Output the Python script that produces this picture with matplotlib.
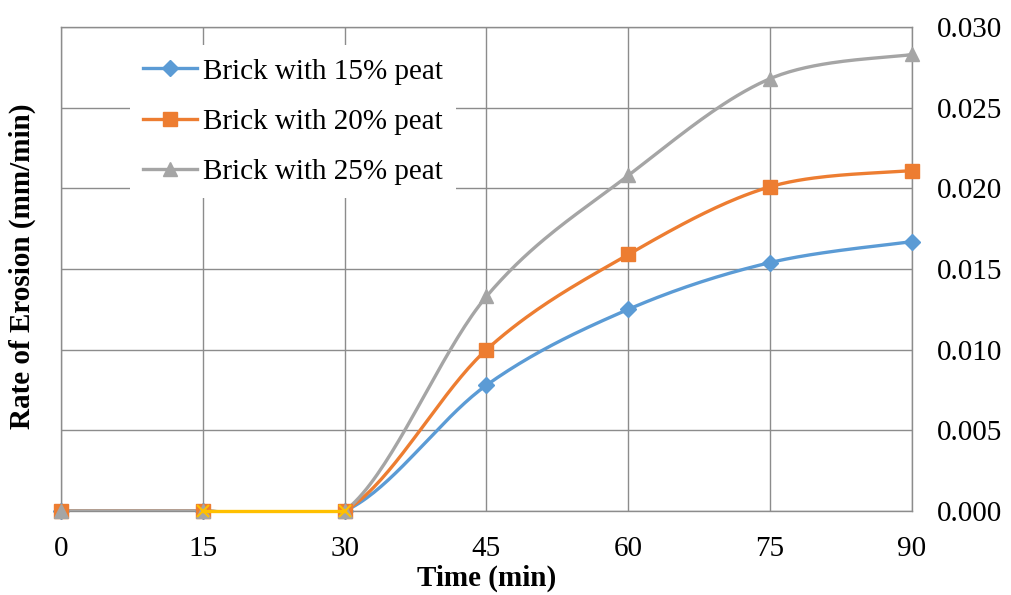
import numpy as np
import matplotlib
matplotlib.use("Agg")
import matplotlib.pyplot as plt

time_min = [0, 15, 30, 45, 60, 75, 90]
peat15 = [0.0, 0.0, 0.0, 0.0078, 0.0125, 0.0154, 0.0167]
peat20 = [0.0, 0.0, 0.0, 0.0100, 0.0159, 0.0201, 0.0211]
peat25 = [0.0, 0.0, 0.0, 0.0133, 0.0208, 0.0268, 0.0283]
extra_x = [15, 30]
extra_y = [0.0, 0.0]
labels = ["Brick with 15% peat", "Brick with 20% peat", "Brick with 25% peat"]
colors = ["#5B9BD5", "#ED7D31", "#A5A5A5"]
markers = ["D", "s", "^"]
msizes = [8, 10, 10]
xticks = [0, 15, 30, 45, 60, 75, 90]
yticks = [0.000, 0.005, 0.010, 0.015, 0.020, 0.025, 0.030]

plt.rcParams['font.family'] = ['Liberation Serif', 'DejaVu Serif']


def smooth(x, y, n=40):
    x = np.asarray(x, float)
    y = np.asarray(y, float)
    P = np.column_stack([x, y])
    out = []
    for i in range(len(P) - 1):
        p0 = P[i - 1] if i > 0 else P[i]
        p1 = P[i]
        p2 = P[i + 1]
        p3 = P[i + 2] if i + 2 < len(P) else P[i + 1]
        c1 = p1 + (p2 - p0) / 6.0
        c2 = p2 - (p3 - p1) / 6.0
        t = np.linspace(0, 1, n)[:, None]
        seg = ((1 - t) ** 3) * p1 + 3 * ((1 - t) ** 2) * t * c1 + 3 * (1 - t) * t ** 2 * c2 + t ** 3 * p2
        out.append(seg if i == 0 else seg[1:])
    s = np.vstack(out)
    return s[:, 0], s[:, 1]


fig = plt.figure(figsize=(10.12, 5.95), dpi=100)
ax = fig.add_axes([61 / 1012, 1 - 511 / 595, (912 - 61) / 1012, (511 - 27) / 595])

handles = []
for ys, c, m, ms, lab in zip([peat15, peat20, peat25], colors, markers, msizes, labels):
    sx, sy = smooth(time_min, ys)
    ax.plot(sx, sy, color=c, lw=2.4, solid_capstyle='round', zorder=3)
    ax.plot(time_min, ys, linestyle='none', marker=m, ms=ms, color=c, zorder=4, clip_on=False)
    h, = ax.plot([], [], color=c, lw=2.4, marker=m, ms=ms)
    handles.append(h)

ax.plot(extra_x, extra_y, color="#FFC000", lw=2.4, zorder=5, clip_on=False)
ax.plot(extra_x, extra_y, color="#FFC000", linestyle='none', marker='x', ms=9, mew=1.5,
        zorder=5, clip_on=False)

ax.set_xlim(0, 90)
ax.set_ylim(0, 0.030)
ax.set_xticks(xticks)
ax.set_yticks(yticks)
ax.set_yticklabels([f"{v:.3f}" for v in yticks])
ax.yaxis.tick_right()
ax.tick_params(axis='both', length=0, labelsize=21)
ax.tick_params(axis='y', pad=18)
ax.tick_params(axis='x', pad=18)
ax.grid(True, color="#8C8C8C", lw=1)
ax.set_axisbelow(True)
for sp in ax.spines.values():
    sp.set_color("#8C8C8C")
    sp.set_linewidth(1)

fig.text(487 / 1012, 1 - 578 / 595, "Time (min)", fontsize=21, fontweight='bold',
         ha='center', va='center')
fig.text(22 / 1012, 1 - 266 / 595, "Rate of Erosion (mm/min)", rotation=90,
         fontsize=21, fontweight='bold', ha='center', va='center')

leg = ax.legend(handles, labels, loc='upper left', bbox_to_anchor=(69 / 851, 1 - 18 / 484),
                fontsize=21, frameon=True, fancybox=False, edgecolor='white',
                framealpha=1, handlelength=1.85, handletextpad=0.2, labelspacing=0.82,
                borderpad=0.45, borderaxespad=0)
leg.get_frame().set_linewidth(0)

fig.savefig("out.png", dpi=100)
